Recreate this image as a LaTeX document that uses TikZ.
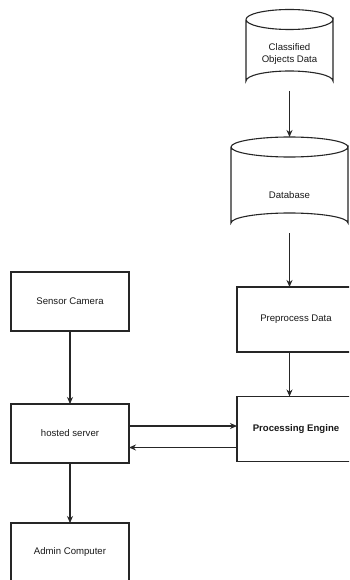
\documentclass[tikz,border=0pt]{standalone}
\usepackage{fontspec}
\setmainfont{Liberation Sans}
\usetikzlibrary{arrows.meta}
\begin{document}
\begin{tikzpicture}[x=1pt,y=-1pt,
  ink/.style={draw=black!85,line width=1.1pt},
  box/.style={ink,rectangle,inner sep=0pt,outer sep=0pt,
    minimum width=118pt,font=\fontsize{9.6}{11.5}\selectfont,text=black!90},
  tall/.style={box,minimum height=65pt},
  short/.style={box,minimum height=59pt},
  label/.style={inner sep=0pt,outer sep=0pt,font=\fontsize{9.6}{11.5}\selectfont,
    text=black!90,align=center},
  flow/.style={ink,-{Stealth[length=7pt,width=6pt]}}]
\useasboundingbox (0,0) rectangle (349,580);
\fill[white] (0,0) rectangle (349,580);
\clip (0,0) rectangle (349,580);

% cylinder: Classified Objects Data
\draw[ink,fill=white] (246,19.5) -- (246,81) arc[start angle=180,end angle=360,x radius=43.5,y radius=10]
  -- (333,19.5) arc[start angle=0,end angle=180,x radius=43.5,y radius=10];
\draw[ink] (246,19.5) arc[start angle=180,end angle=360,x radius=43.5,y radius=10];
\node[label] (cod) at (289.5,54) {Classified\\Objects Data};
\coordinate (codbot) at (289.5,91);

% cylinder: Database
\draw[ink,fill=white] (231,147) -- (231,223) arc[start angle=180,end angle=360,x radius=58.5,y radius=10]
  -- (348,147) arc[start angle=0,end angle=180,x radius=58.5,y radius=10];
\draw[ink] (231,147) arc[start angle=180,end angle=360,x radius=58.5,y radius=10];
\node[label] (db) at (289.5,195) {Database};
\coordinate (dbtop) at (289.5,137);
\coordinate (dbbot) at (289.5,233);

% right column
\node[tall] (pre) at (296,319.5) {Preprocess Data};
\node[tall,font=\fontsize{9.6}{11.5}\selectfont\bfseries] (eng) at (296,429) {\raisebox{-3pt}{Processing Engine}};

% left column
\node[short] (cam) at (70,301.5) {Sensor Camera};
\node[short] (srv) at (70,433.5) {hosted server};
\node[short] (adm) at (70,552.5) {Admin Computer};

% connectors
\draw[flow] (codbot) -- (dbtop);
\draw[flow] (dbbot) -- (pre.north -| dbbot);
\draw[flow] (pre.south -| dbbot) -- (eng.north -| dbbot);
\draw[flow] (cam) -- (srv);
\draw[flow] (srv) -- (adm);
\draw[flow] (srv.east |- 0,426) -- (eng.west |- 0,426);
\draw[flow] (eng.west |- 0,447.5) -- (srv.east |- 0,447.5);
\end{tikzpicture}
\end{document}
